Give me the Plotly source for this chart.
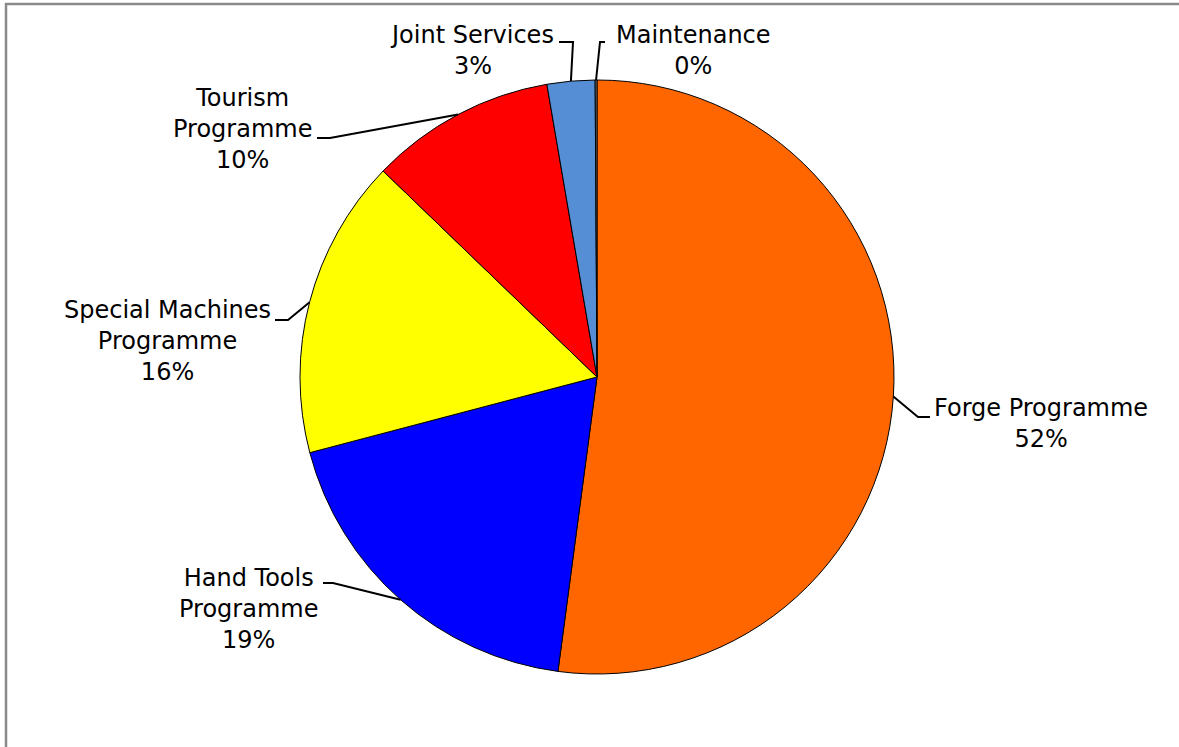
import math
import plotly.graph_objects as go

# Budget shares by programme (percent of total)
categories = [
    "Forge Programme",
    "Hand Tools Programme",
    "Special Machines Programme",
    "Tourism Programme",
    "Joint Services",
    "Maintenance",
]
shares = [52.1, 18.8, 16.3, 10.1, 2.6, 0.1]
label_names = [
    "Forge Programme",
    "Hand Tools<br>Programme",
    "Special Machines<br>Programme",
    "Tourism<br>Programme",
    "Joint Services",
    "Maintenance",
]
colors = ["#FF6600", "#0000FF", "#FFFF00", "#FF0000", "#558ED5", "#7F7F7F"]

# Canvas and pie geometry (pixels)
W, H = 1179, 747
CX, CY, R = 597, 377, 297

# Label placement: text centre (tx, ty), leader elbow (ex, ey), stub end x (sx)
label_layout = [
    dict(tx=1041, ty=424, ex=918, ey=417, sx=930),
    dict(tx=248, ty=609, ex=333, ey=583, sx=323),
    dict(tx=167, ty=341, ex=288, ey=320, sx=275),
    dict(tx=242, ty=129, ex=330, ey=138, sx=317),
    dict(tx=472, ty=51, ex=573, ey=42, sx=559),
    dict(tx=693, ty=51, ex=600, ey=42, sx=605),
]

FONT = dict(family="DejaVu Sans, Verdana, sans-serif", size=24, color="#000000")


def px(x):
    return x / W


def py(y):
    return 1 - y / H


fig = go.Figure(
    go.Pie(
        labels=categories,
        values=shares,
        sort=False,
        direction="clockwise",
        rotation=0,
        marker=dict(colors=colors, line=dict(color="#000000", width=1)),
        textinfo="none",
        hoverinfo="label+percent",
        showlegend=False,
        domain=dict(x=[px(CX - R), px(CX + R)], y=[py(CY + R), py(CY - R)]),
    )
)

total = sum(shares)
shapes = []
annotations = []
cum = 0.0
for name, v, lay in zip(label_names, shares, label_layout):
    mid = 2 * math.pi * (cum + v / 2) / total
    cum += v
    ax = CX + R * math.sin(mid)
    ay = CY - R * math.cos(mid)
    path = "M {:.5f} {:.5f} L {:.5f} {:.5f} L {:.5f} {:.5f}".format(
        px(ax), py(ay), px(lay["ex"]), py(lay["ey"]), px(lay["sx"]), py(lay["ey"])
    )
    shapes.append(
        dict(type="path", path=path, xref="paper", yref="paper",
             line=dict(color="#000000", width=2))
    )
    pct = round(v / total * 100)
    annotations.append(
        dict(
            text=f"{name}<br>{pct}%",
            x=px(lay["tx"]), y=py(lay["ty"]),
            xref="paper", yref="paper",
            xanchor="center", yanchor="middle",
            showarrow=False, align="center", font=FONT,
        )
    )

# Frame edges along the top and left
shapes.append(dict(type="line", xref="paper", yref="paper",
                   x0=px(5), x1=1, y0=py(4), y1=py(4),
                   line=dict(color="#8A8A8A", width=2.5)))
shapes.append(dict(type="line", xref="paper", yref="paper",
                   x0=px(6), x1=px(6), y0=py(3), y1=0,
                   line=dict(color="#8A8A8A", width=2.5)))

fig.update_layout(
    width=W,
    height=H,
    margin=dict(l=0, r=0, t=0, b=0),
    paper_bgcolor="#FFFFFF",
    plot_bgcolor="#FFFFFF",
    shapes=shapes,
    annotations=annotations,
)

fig.write_html("out.html")
